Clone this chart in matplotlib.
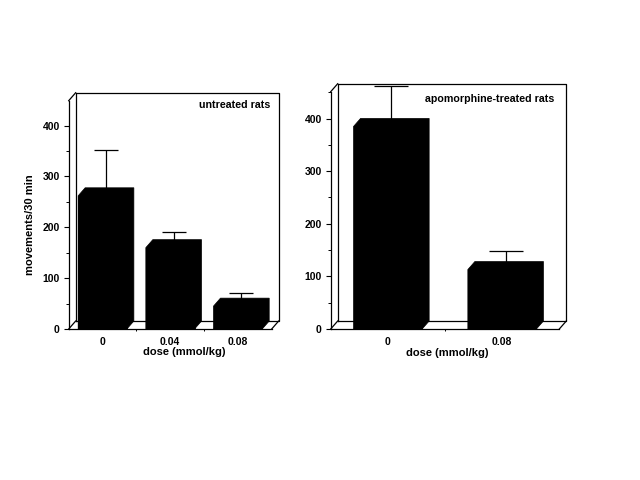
import matplotlib
matplotlib.use("Agg")
import matplotlib.pyplot as plt
from matplotlib.patches import Polygon

plt.rcParams['font.family'] = ['Liberation Sans', 'DejaVu Sans']
plt.rcParams['font.weight'] = 'bold'

# left panel values
doses_left = ["0", "0.04", "0.08"]
means_left = [262, 160, 45]
errs_left = [90, 30, 25]

# right panel values
doses_right = ["0", "0.08"]
means_right = [385, 113]
errs_right = [76, 36]

W, H = 640, 480


def make_axes(fig, x0, x1, ytop, ybot):
    return fig.add_axes([x0/W, 1-ybot/H, (x1-x0)/W, (ybot-ytop)/H])


def panel(ax, doses, means, errs, ymax, width, dx, dy, capsize, title, title_xy, label_xy):
    n = len(doses)
    xs = list(range(n))
    xmin, xmax = -0.5, n-0.5
    ax.set_xlim(xmin, xmax)
    ax.set_ylim(0, ymax)
    for s in ["top", "right"]:
        ax.spines[s].set_visible(False)
    for s in ["left", "bottom"]:
        ax.spines[s].set_linewidth(0.9)

    # back wall and floor
    ax.plot([xmin+dx, xmin+dx, xmax+dx, xmax+dx, xmin+dx],
            [dy, ymax+dy, ymax+dy, dy, dy], color="k", lw=0.9, clip_on=False, zorder=1)
    ax.plot([xmin, xmin+dx], [0, dy], color="k", lw=0.9, clip_on=False, zorder=1)
    ax.plot([xmax, xmax+dx], [0, dy], color="k", lw=0.9, clip_on=False, zorder=1)
    ax.plot([xmin, xmin+dx], [ymax, ymax+dy], color="k", lw=0.9, clip_on=False, zorder=1)

    # error bars sit behind the bars
    xerr = [x+dx/2 for x in xs]
    line, caps, bars = ax.errorbar(xerr, means, yerr=[[0]*n, errs], fmt="none", ecolor="k",
                                   elinewidth=0.9, capsize=capsize, capthick=0.9, zorder=2)
    for c in caps:
        c.set_clip_on(False)
    for b in bars:
        b.set_clip_on(False)

    ax.bar(xs, means, width=width, color="k", edgecolor="k", lw=0.5, zorder=3)
    for x, m in zip(xs, means):
        l, r = x-width/2, x+width/2
        # whole outline so no seam shows between the faces
        ax.add_patch(Polygon([(l, 0), (l, m), (l+dx, m+dy), (r+dx, m+dy), (r+dx, dy), (r, 0)],
                             closed=True, fc="k", ec="k", lw=0.5, zorder=3))

    ax.set_yticks(range(0, int(ymax)+1, 100))
    ax.set_yticks(range(50, int(ymax)+1, 100), minor=True)
    ax.set_xticks(xs)
    ax.set_xticklabels(doses)
    ax.set_xticks([x+0.5 for x in xs[:-1]], minor=True)
    ax.tick_params(axis="y", which="major", length=3.5, width=0.8, labelsize=7.5, pad=3)
    ax.tick_params(axis="y", which="minor", length=2, width=0.7)
    ax.tick_params(axis="x", which="major", length=0, labelsize=7.5, pad=6)
    ax.tick_params(axis="x", which="minor", length=1.5, width=0.7)
    ax.set_xlabel("dose (mmol/kg)", fontsize=8, fontweight="bold", va="center")
    ax.xaxis.set_label_coords(label_xy[0], label_xy[1])
    ax.text(title_xy[0], title_xy[1], title, transform=ax.transAxes, ha="right", va="center",
            fontsize=7.7, fontweight="bold")


fig = plt.figure(figsize=(6.4, 4.8), dpi=100)

ax1 = make_axes(fig, 68.7, 271.7, 100.7, 329)
panel(ax1, doses_left, means_left, errs_left, 449, 0.72, 0.103, 15.7, 8.4,
      "untreated rats", (0.992, 0.983), (0.568, -0.1))
ax1.set_ylabel("movements/30 min", fontsize=8, fontweight="bold", va="center")
ax1.yaxis.set_label_coords(-0.19, 0.455)

ax2 = make_axes(fig, 330.7, 559.3, 91.7, 329)
panel(ax2, doses_right, means_right, errs_right, 451, 0.6, 0.0613, 15.2, 12.3,
      "apomorphine-treated rats", (0.98, 0.97), (0.511, -0.101))

fig.savefig("out.png", dpi=100)
